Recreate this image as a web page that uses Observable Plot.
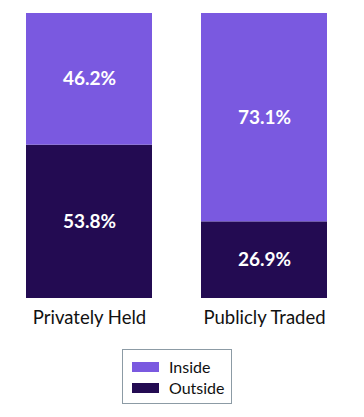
<!DOCTYPE html>
<html>
<head>
<meta charset="utf-8">
<script src="https://cdn.jsdelivr.net/npm/d3@7"></script>
<script src="https://cdn.jsdelivr.net/npm/@observablehq/plot@0.6"></script>
<style>
  body { margin: 0; background: #fff; font-family: Lato, "Open Sans", sans-serif; }
  #chart { position: relative; width: 364px; height: 417px; }
  .legend { position: absolute; left: 122px; top: 349px; width: 110px; height: 55px; border: 1px solid #8c9ba5; box-sizing: border-box; font-size: 16px; color: #111; }
  .legend .row { position: absolute; left: 9px; display: flex; align-items: center; line-height: 16px; }
  .legend .sw { width: 27px; height: 10px; margin-right: 10px; }
</style>
</head>
<body>
<div id="chart"></div>
<script>
const categories = ["Privately Held", "Publicly Traded"];
const segments = ["Outside", "Inside"];
const outsideValues = [53.8, 26.9];
const insideValues = [46.2, 73.1];
const colors = ["#230B52", "#7A59E0"];

const data = [];
categories.forEach((c, i) => {
  data.push({cat: c, seg: "Outside", value: outsideValues[i]});
  data.push({cat: c, seg: "Inside", value: insideValues[i]});
});

const plot = Plot.plot({
  width: 364,
  height: 340,
  marginTop: 13,
  marginBottom: 42,
  marginLeft: 26,
  marginRight: 37,
  style: {fontFamily: "Lato, 'Open Sans', sans-serif", background: "#fff"},
  x: {domain: categories, paddingInner: 0.28, paddingOuter: 0, label: null, tickSize: 0, tickPadding: 12},
  y: {domain: [0, 100], axis: null},
  color: {domain: segments, range: colors},
  marks: [
    Plot.barY(data, {x: "cat", y: "value", fill: "seg", z: "seg", order: segments}),
    Plot.text(data, Plot.stackY({x: "cat", y: "value", z: "seg", order: segments, text: d => d.value.toFixed(1) + "%", fill: "white", fontWeight: "bold", fontSize: 19}))
  ]
});
const xl = plot.querySelector('[aria-label="x-axis tick label"]');
if (xl) { xl.setAttribute("font-size", "18.5"); xl.setAttribute("fill", "#111"); }
document.getElementById("chart").appendChild(plot);

const legend = document.createElement("div");
legend.className = "legend";
const legendItems = ["Inside", "Outside"];
legendItems.forEach((name, i) => {
  const row = document.createElement("div");
  row.className = "row";
  row.style.top = (i === 0 ? 9 : 30) + "px";
  const sw = document.createElement("div");
  sw.className = "sw";
  sw.style.background = colors[segments.indexOf(name)];
  const lab = document.createElement("span");
  lab.textContent = name;
  row.appendChild(sw); row.appendChild(lab);
  legend.appendChild(row);
});
document.getElementById("chart").appendChild(legend);
</script>
</body>
</html>
